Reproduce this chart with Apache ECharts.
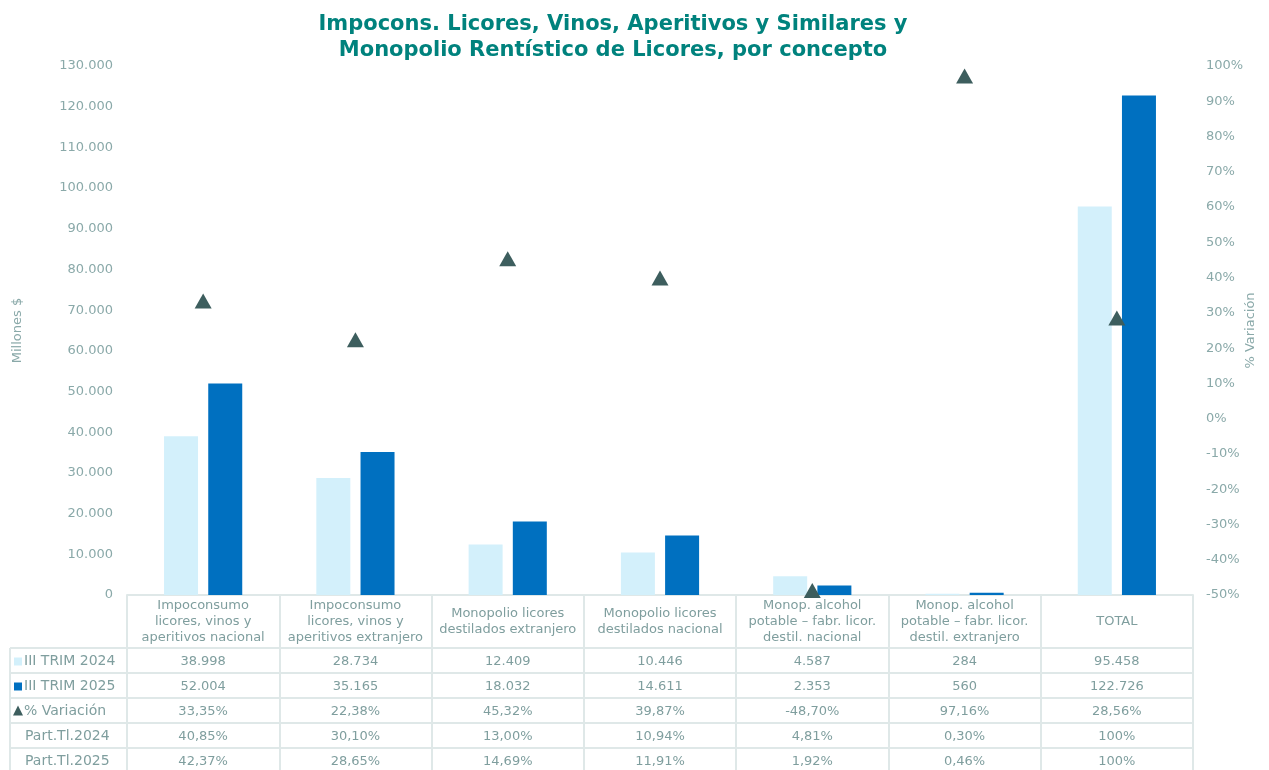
<!DOCTYPE html>
<html>
<head>
<meta charset="utf-8">
<script src="https://cdn.jsdelivr.net/npm/echarts@6/dist/echarts.min.js"></script>
<style>html,body{margin:0;padding:0;background:#fff}#c{width:1269px;height:770px}</style>
</head>
<body>
<div id="c"></div>
<script>
var categories = [
  'Impoconsumo\nlicores, vinos y\naperitivos nacional',
  'Impoconsumo\nlicores, vinos y\naperitivos extranjero',
  'Monopolio licores\ndestilados extranjero',
  'Monopolio licores\ndestilados nacional',
  'Monop. alcohol\npotable \u2013 fabr. licor.\ndestil. nacional',
  'Monop. alcohol\npotable \u2013 fabr. licor.\ndestil. extranjero',
  'TOTAL'
];
var trim2024 = [38998, 28734, 12409, 10446, 4587, 284, 95458];
var trim2025 = [52004, 35165, 18032, 14611, 2353, 560, 122726];
var variacion = [33.35, 22.38, 45.32, 39.87, -48.70, 97.16, 28.56];
var part2024 = [40.85, 30.10, 13.00, 10.94, 4.81, 0.30, 100];
var part2025 = [42.37, 28.65, 14.69, 11.91, 1.92, 0.46, 100];
var rowLabels = ['III TRIM 2024', 'III TRIM 2025', '% Variaci\u00f3n', 'Part.Tl.2024', 'Part.Tl.2025'];
var leftTicks = { min: 0, max: 130000, interval: 10000 };
var rightTicks = { min: -50, max: 100, interval: 10 };

var FONT = 'DejaVu Sans, Verdana, sans-serif';
var TXT = '#8aa9a9';
var CELL = '#7f9e9e';
var LINE = '#dfe8e8';
var C24 = '#d3f0fb';
var C25 = '#0070c0';
var CTRI = '#3d5e5e';

function thousands(v) {
  return String(Math.round(v)).replace(/\B(?=(\d{3})+(?!\d))/g, '.');
}
function pct(v) {
  if (v === 100) return '100%';
  return v.toFixed(2).replace('.', ',') + '%';
}

var rows = [
  trim2024.map(thousands),
  trim2025.map(thousands),
  variacion.map(pct),
  part2024.map(pct),
  part2025.map(pct)
];

var gridTop = 66, gridBottomY = 595, gridLeft = 127, gridRight = 1193;
var headerBottom = 648, rowH = 25;

var xAxes = [{
  type: 'category',
  data: categories,
  gridIndex: 0,
  axisLine: { show: true, lineStyle: { color: LINE, width: 2 } },
  axisTick: { show: true, length: 175, lineStyle: { color: LINE, width: 2 } },
  axisLabel: {
    interval: 0, color: CELL, fontFamily: FONT, fontSize: 13, lineHeight: 16,
    verticalAlign: 'middle', margin: 27
  }
}];
rows.forEach(function (r, i) {
  xAxes.push({
    type: 'category',
    data: r,
    gridIndex: 0,
    position: 'bottom',
    axisLine: { show: false },
    axisTick: { show: false },
    axisLabel: {
      interval: 0, color: CELL, fontFamily: FONT, fontSize: 13,
      verticalAlign: 'middle', margin: headerBottom - gridBottomY + rowH * i + rowH / 2 + 1
    }
  });
});

var graphics = [];
for (var k = 0; k < 6; k++) {
  var y = headerBottom + rowH * k;
  graphics.push({ type: 'line', shape: { x1: 10, y1: y, x2: gridRight, y2: y }, style: { stroke: LINE, lineWidth: 2 }, silent: true });
}
graphics.push({ type: 'line', shape: { x1: 10, y1: headerBottom, x2: 10, y2: 770 }, style: { stroke: LINE, lineWidth: 2 }, silent: true });
rowLabels.forEach(function (lab, i) {
  var cy = headerBottom + rowH * i + rowH / 2 + 1;
  var tx = 24;
  if (i === 0 || i === 1) {
    graphics.push({ type: 'rect', shape: { x: 14, y: cy - 4, width: 8, height: 8 }, style: { fill: i === 0 ? C24 : C25 }, silent: true });
  } else if (i === 2) {
    graphics.push({ type: 'polygon', shape: { points: [[18, cy - 6], [13, cy + 4], [23, cy + 4]] }, style: { fill: CTRI }, silent: true });
  } else {
    tx = 25;
  }
  graphics.push({ type: 'text', x: tx, y: cy, style: { text: lab, fill: CELL, font: '14px ' + FONT, textVerticalAlign: 'middle' }, silent: true });
});

var chart = echarts.init(document.getElementById('c'));
chart.setOption({
  animation: false,
  backgroundColor: '#fff',
  title: {
    text: 'Impocons. Licores, Vinos, Aperitivos y Similares y\nMonopolio Rent\u00edstico de Licores, por concepto',
    left: 608, top: 7, textAlign: 'center',
    textStyle: { color: '#00827d', fontFamily: FONT, fontSize: 21, fontWeight: 'bold', lineHeight: 26 }
  },
  grid: { left: gridLeft, right: 1269 - gridRight, top: gridTop, bottom: 770 - gridBottomY, containLabel: false, outerBoundsMode: 'none' },
  xAxis: xAxes,
  yAxis: [{
    type: 'value', min: leftTicks.min, max: leftTicks.max, interval: leftTicks.interval,
    name: 'Millones $', nameLocation: 'middle', nameGap: 103, nameRotate: 90, nameMoveOverlap: false,
    nameTextStyle: { color: TXT, fontFamily: FONT, fontSize: 13 },
    axisLine: { show: false }, axisTick: { show: false }, splitLine: { show: false },
    axisLabel: { color: TXT, fontFamily: FONT, fontSize: 13, margin: 14, formatter: function (v) { return thousands(v); } }
  }, {
    type: 'value', min: rightTicks.min, max: rightTicks.max, interval: rightTicks.interval, position: 'right',
    name: '% Variaci\u00f3n', nameLocation: 'middle', nameGap: 51, nameRotate: 90, nameMoveOverlap: false,
    nameTextStyle: { color: TXT, fontFamily: FONT, fontSize: 13 },
    axisLine: { show: false }, axisTick: { show: false }, splitLine: { show: false },
    axisLabel: { color: TXT, fontFamily: FONT, fontSize: 13, margin: 13, formatter: '{value}%' }
  }],
  series: [{
    name: 'III TRIM 2024', type: 'bar', data: trim2024, barWidth: 34, barGap: '30%',
    itemStyle: { color: C24 }, xAxisIndex: 0, yAxisIndex: 0
  }, {
    name: 'III TRIM 2025', type: 'bar', data: trim2025, barWidth: 34,
    itemStyle: { color: C25 }, xAxisIndex: 0, yAxisIndex: 0
  }, {
    name: '% Variaci\u00f3n', type: 'scatter', data: variacion, symbol: 'triangle', symbolSize: [17, 15],
    itemStyle: { color: CTRI, opacity: 1 }, xAxisIndex: 0, yAxisIndex: 1, z: 5
  }],
  graphic: graphics
});
</script>
</body>
</html>
